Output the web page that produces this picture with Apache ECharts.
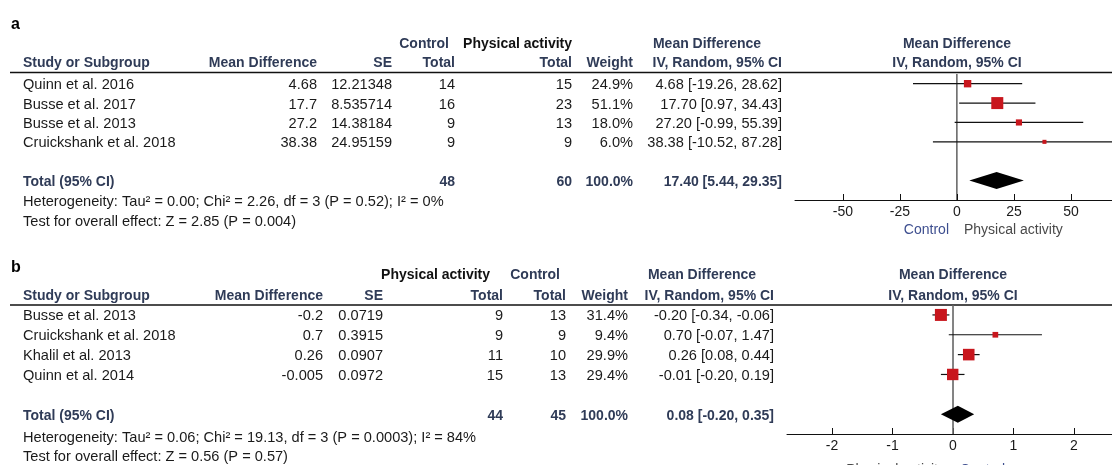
<!DOCTYPE html>
<html>
<head>
<meta charset="utf-8">
<script src="https://cdn.jsdelivr.net/npm/echarts@6/dist/echarts.min.js"></script>
<style>
html, body { margin: 0; padding: 0; background: #fff; }
#chart { width: 1112px; height: 465px; }
</style>
</head>
<body>
<div id="chart"></div>
<script>
// ---- panel a: Control vs Physical activity ----
const studiesA = ['Quinn et al. 2016', 'Busse et al. 2017', 'Busse et al. 2013', 'Cruickshank et al. 2018'];
const mdA = [4.68, 17.7, 27.2, 38.38];
const seA = [12.21348, 8.535714, 14.38184, 24.95159];
const ctrlA = [14, 16, 9, 9];
const paA = [15, 23, 13, 9];
const weightA = [24.9, 51.1, 18.0, 6.0];
const lowA = [-19.26, 0.97, -0.99, -10.52];
const highA = [28.62, 34.43, 55.39, 87.28];
const totalA = { est: 17.40, low: 5.44, high: 29.35, ctrl: 48, pa: 60 };
const ticksA = [-50, -25, 0, 25, 50, 75];
const hetA = 'Heterogeneity: Tau\u00b2 = 0.00; Chi\u00b2 = 2.26, df = 3 (P = 0.52); I\u00b2 = 0%';
const testA = 'Test for overall effect: Z = 2.85 (P = 0.004)';

// ---- panel b: Physical activity vs Control ----
const studiesB = ['Busse et al. 2013', 'Cruickshank et al. 2018', 'Khalil et al. 2013', 'Quinn et al. 2014'];
const mdB = [-0.2, 0.7, 0.26, -0.005];
const seB = ['0.0719', '0.3915', '0.0907', '0.0972'];
const paB = [9, 9, 11, 15];
const ctrlB = [13, 9, 10, 13];
const weightB = [31.4, 9.4, 29.9, 29.4];
const lowB = [-0.34, -0.07, 0.08, -0.20];
const highB = [-0.06, 1.47, 0.44, 0.19];
const totalB = { est: 0.08, low: -0.20, high: 0.35, pa: 44, ctrl: 45 };
const ticksB = [-2, -1, 0, 1, 2];
const hetB = 'Heterogeneity: Tau\u00b2 = 0.06; Chi\u00b2 = 19.13, df = 3 (P = 0.0003); I\u00b2 = 84%';
const testB = 'Test for overall effect: Z = 0.56 (P = 0.57)';

const FONT = '"Liberation Sans", Arial, sans-serif';
const HEAD = '#2f3b57';
const INK = '#1a1a1a';
const RED = '#c8161d';
const TOTAL_ROW = 5;

const chart = echarts.init(document.getElementById('chart'));

const sq = (w, max) => 3 + 9 * w / max;

function ciSeries(idx, low, high) {
  return {
    type: 'custom',
    xAxisIndex: idx, yAxisIndex: idx,
    clip: true,
    data: low.map((l, i) => [l, high[i], i]),
    renderItem: (params, api) => {
      const a = api.coord([api.value(0), api.value(2)]);
      const b = api.coord([api.value(1), api.value(2)]);
      return {
        type: 'line',
        shape: { x1: a[0], y1: a[1], x2: b[0], y2: b[1] },
        style: { stroke: '#111', lineWidth: 1.2 }
      };
    },
    z: 2
  };
}

function squareSeries(idx, md, weight) {
  const max = Math.max(...weight);
  return {
    type: 'scatter',
    xAxisIndex: idx, yAxisIndex: idx,
    symbol: 'rect',
    data: md.map((m, i) => [m, i, weight[i]]),
    symbolSize: v => sq(v[2], max),
    itemStyle: { color: RED, opacity: 1 },
    z: 3
  };
}

function diamondSeries(idx, tot) {
  return {
    type: 'custom',
    xAxisIndex: idx, yAxisIndex: idx,
    data: [[tot.low, tot.est, tot.high, TOTAL_ROW]],
    renderItem: (params, api) => {
      const y = api.value(3);
      const l = api.coord([api.value(0), y]);
      const c = api.coord([api.value(1), y]);
      const r = api.coord([api.value(2), y]);
      const h = 8.5;
      return {
        type: 'polygon',
        shape: { points: [[l[0], l[1]], [c[0], c[1] - h], [r[0], r[1]], [c[0], c[1] + h]] },
        style: { fill: '#000' }
      };
    },
    z: 3
  };
}

function zeroLine(idx, color, width) {
  return {
    type: 'line',
    xAxisIndex: idx, yAxisIndex: idx,
    data: [[0, -0.5], [0, 6]],
    symbol: 'none',
    lineStyle: { color: color, width: width },
    silent: true,
    z: 1
  };
}

function xAxisOf(idx, min, max, ticks) {
  return {
    type: 'value', gridIndex: idx, min: min, max: max,
    position: 'bottom',
    splitLine: { show: false },
    axisLine: { onZero: false, lineStyle: { color: '#111', width: 1 } },
    axisTick: { inside: true, length: 6, customValues: ticks, lineStyle: { color: '#111' } },
    axisLabel: { customValues: ticks, color: INK, fontSize: 14, fontFamily: FONT, margin: 5 }
  };
}

function yAxisOf(idx) {
  return { type: 'value', gridIndex: idx, min: -0.5, max: 6, inverse: true, show: false };
}

chart.setOption({
  animation: false,
  grid: [
    { left: 795, right: 0, top: 74, height: 126 },
    { left: 787, right: 0, top: 305, height: 129 }
  ],
  xAxis: [xAxisOf(0, -71, 68, ticksA), xAxisOf(1, -2.744, 2.628, ticksB)],
  yAxis: [yAxisOf(0), yAxisOf(1)],
  series: [
    zeroLine(0, '#111', 1), ciSeries(0, lowA, highA), squareSeries(0, mdA, weightA), diamondSeries(0, totalA),
    zeroLine(1, '#666', 1.6), ciSeries(1, lowB, highB), squareSeries(1, mdB, weightB), diamondSeries(1, totalB)
  ]
});

// ---- table text ----
function txt(s, x, y, o = {}) {
  return {
    type: 'text', x: x, y: y, silent: true,
    style: {
      text: s,
      align: o.align || 'right',
      verticalAlign: 'middle',
      fill: o.color || INK,
      font: (o.bold ? 'bold ' : '') + (o.size || 14.6) + 'px ' + FONT
    }
  };
}
const head = (s, x, y, align) => txt(s, x, y, { bold: true, color: HEAD, size: 14, align: align });
const rowY = (idx, r) => chart.convertToPixel({ yAxisIndex: idx }, r) + 1.5;
const f2 = v => v.toFixed(2);
const ci = (e, l, h) => f2(e) + ' [' + f2(l) + ', ' + f2(h) + ']';

const g = [];

// panel a
g.push(txt('a', 11, 25, { bold: true, size: 16, align: 'left', color: '#000' }));
g.push(head('Control', 449, 44));
g.push(txt('Physical activity', 572, 44, { bold: true, size: 14, color: '#111' }));
g.push(head('Mean Difference', 707, 44, 'center'));
g.push(head('Mean Difference', 957, 44, 'center'));
g.push(head('Study or Subgroup', 23, 63, 'left'));
g.push(head('Mean Difference', 317, 63));
g.push(head('SE', 392, 63));
g.push(head('Total', 455, 63));
g.push(head('Total', 572, 63));
g.push(head('Weight', 633, 63));
g.push(head('IV, Random, 95% CI', 782, 63));
g.push(head('IV, Random, 95% CI', 957, 63, 'center'));
g.push({ type: 'line', silent: true, shape: { x1: 10, y1: 72.5, x2: 1112, y2: 72.5 }, style: { stroke: '#111', lineWidth: 1.6 } });
studiesA.forEach((s, i) => {
  const y = rowY(0, i);
  g.push(txt(s, 23, y, { align: 'left' }));
  g.push(txt(String(mdA[i]), 317, y));
  g.push(txt(String(seA[i]), 392, y));
  g.push(txt(String(ctrlA[i]), 455, y));
  g.push(txt(String(paA[i]), 572, y));
  g.push(txt(weightA[i].toFixed(1) + '%', 633, y));
  g.push(txt(ci(mdA[i], lowA[i], highA[i]), 782, y));
});
{
  const y = rowY(0, TOTAL_ROW);
  g.push(head('Total (95% CI)', 23, y, 'left'));
  g.push(head(String(totalA.ctrl), 455, y));
  g.push(head(String(totalA.pa), 572, y));
  g.push(head('100.0%', 633, y));
  g.push(head(ci(totalA.est, totalA.low, totalA.high), 782, y));
}
g.push(txt(hetA, 23, 202, { align: 'left' }));
g.push(txt(testA, 23, 222, { align: 'left' }));
g.push(txt('Control', 949, 230, { color: '#3d4e8f', size: 14 }));
g.push(txt('Physical activity', 964, 230, { align: 'left', color: '#4a4a4a', size: 14 }));

// panel b
g.push(txt('b', 11, 268, { bold: true, size: 16, align: 'left', color: '#000' }));
g.push(txt('Physical activity', 490, 275, { bold: true, size: 14, color: '#111' }));
g.push(head('Control', 560, 275));
g.push(head('Mean Difference', 702, 275, 'center'));
g.push(head('Mean Difference', 953, 275, 'center'));
g.push(head('Study or Subgroup', 23, 296, 'left'));
g.push(head('Mean Difference', 323, 296));
g.push(head('SE', 383, 296));
g.push(head('Total', 503, 296));
g.push(head('Total', 566, 296));
g.push(head('Weight', 628, 296));
g.push(head('IV, Random, 95% CI', 774, 296));
g.push(head('IV, Random, 95% CI', 953, 296, 'center'));
g.push({ type: 'line', silent: true, shape: { x1: 10, y1: 305, x2: 1112, y2: 305 }, style: { stroke: '#111', lineWidth: 1.6 } });
studiesB.forEach((s, i) => {
  const y = rowY(1, i);
  g.push(txt(s, 23, y, { align: 'left' }));
  g.push(txt(String(mdB[i]), 323, y));
  g.push(txt(seB[i], 383, y));
  g.push(txt(String(paB[i]), 503, y));
  g.push(txt(String(ctrlB[i]), 566, y));
  g.push(txt(weightB[i].toFixed(1) + '%', 628, y));
  g.push(txt(ci(mdB[i], lowB[i], highB[i]), 774, y));
});
{
  const y = rowY(1, TOTAL_ROW);
  g.push(head('Total (95% CI)', 23, y, 'left'));
  g.push(head(String(totalB.pa), 503, y));
  g.push(head(String(totalB.ctrl), 566, y));
  g.push(head('100.0%', 628, y));
  g.push(head(ci(totalB.est, totalB.low, totalB.high), 774, y));
}
g.push(txt(hetB, 23, 438, { align: 'left' }));
g.push(txt(testB, 23, 457, { align: 'left' }));
g.push(txt('Physical activity', 945, 470, { color: '#4a4a4a', size: 14 }));
g.push(txt('Control', 960, 470, { align: 'left', color: '#3d4e8f', size: 14 }));

chart.setOption({ graphic: g });
</script>
</body>
</html>
